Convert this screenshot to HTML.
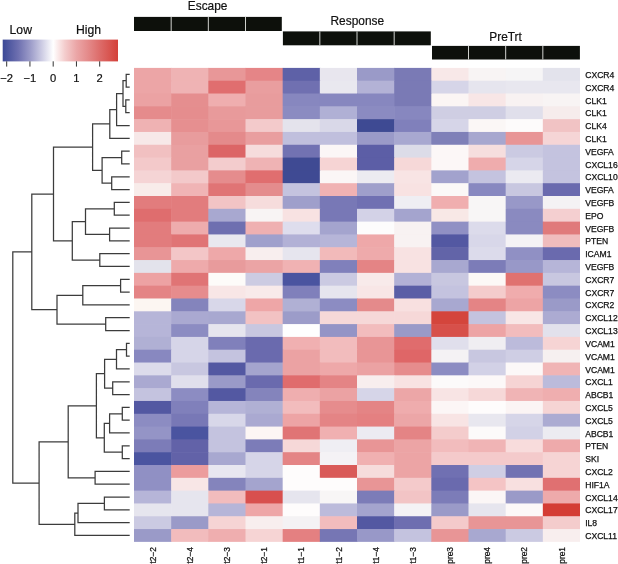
<!DOCTYPE html><html><head><meta charset="utf-8"><style>html,body{margin:0;padding:0;background:#fff;}body{width:618px;height:564px;overflow:hidden;}svg{display:block;font-family:"Liberation Sans",sans-serif;will-change:transform;}</style></head><body>
<svg width="618" height="564" viewBox="0 0 618 564">
<g>
<rect x="134" y="67.9" width="37.77" height="13.41" fill="#eca5a6"/>
<rect x="171.17" y="67.9" width="37.77" height="13.41" fill="#efb3b4"/>
<rect x="208.33" y="67.9" width="37.77" height="13.41" fill="#e89798"/>
<rect x="245.5" y="67.9" width="37.77" height="13.41" fill="#e58587"/>
<rect x="282.67" y="67.9" width="37.77" height="13.41" fill="#5e61a7"/>
<rect x="319.83" y="67.9" width="37.77" height="13.41" fill="#e8e6ee"/>
<rect x="357" y="67.9" width="37.77" height="13.41" fill="#9a9ac8"/>
<rect x="394.17" y="67.9" width="37.77" height="13.41" fill="#7a7ab5"/>
<rect x="431.33" y="67.9" width="37.77" height="13.41" fill="#f8e8e8"/>
<rect x="468.5" y="67.9" width="37.77" height="13.41" fill="#f8f4f4"/>
<rect x="505.67" y="67.9" width="37.77" height="13.41" fill="#f6f5f6"/>
<rect x="542.83" y="67.9" width="37.17" height="13.41" fill="#e3e3ec"/>
<rect x="134" y="80.71" width="37.77" height="13.41" fill="#eca5a6"/>
<rect x="171.17" y="80.71" width="37.77" height="13.41" fill="#efb3b4"/>
<rect x="208.33" y="80.71" width="37.77" height="13.41" fill="#e06e6f"/>
<rect x="245.5" y="80.71" width="37.77" height="13.41" fill="#e99e9f"/>
<rect x="282.67" y="80.71" width="37.77" height="13.41" fill="#7070b1"/>
<rect x="319.83" y="80.71" width="37.77" height="13.41" fill="#e9e8ef"/>
<rect x="357" y="80.71" width="37.77" height="13.41" fill="#b3b2d6"/>
<rect x="394.17" y="80.71" width="37.77" height="13.41" fill="#7a7ab5"/>
<rect x="431.33" y="80.71" width="37.77" height="13.41" fill="#d6d5e8"/>
<rect x="468.5" y="80.71" width="37.77" height="13.41" fill="#e6e5ee"/>
<rect x="505.67" y="80.71" width="37.77" height="13.41" fill="#e8e7ef"/>
<rect x="542.83" y="80.71" width="37.17" height="13.41" fill="#e8e7ef"/>
<rect x="134" y="93.52" width="37.77" height="13.41" fill="#eba2a3"/>
<rect x="171.17" y="93.52" width="37.77" height="13.41" fill="#e58e8f"/>
<rect x="208.33" y="93.52" width="37.77" height="13.41" fill="#efaeaf"/>
<rect x="245.5" y="93.52" width="37.77" height="13.41" fill="#e89c9d"/>
<rect x="282.67" y="93.52" width="37.77" height="13.41" fill="#8787bf"/>
<rect x="319.83" y="93.52" width="37.77" height="13.41" fill="#8787bf"/>
<rect x="357" y="93.52" width="37.77" height="13.41" fill="#8787bf"/>
<rect x="394.17" y="93.52" width="37.77" height="13.41" fill="#7a7ab5"/>
<rect x="431.33" y="93.52" width="37.77" height="13.41" fill="#fbf5f4"/>
<rect x="468.5" y="93.52" width="37.77" height="13.41" fill="#f8e6e6"/>
<rect x="505.67" y="93.52" width="37.77" height="13.41" fill="#f8f2f2"/>
<rect x="542.83" y="93.52" width="37.17" height="13.41" fill="#f8f4f4"/>
<rect x="134" y="106.33" width="37.77" height="13.41" fill="#e58b8c"/>
<rect x="171.17" y="106.33" width="37.77" height="13.41" fill="#e58d8e"/>
<rect x="208.33" y="106.33" width="37.77" height="13.41" fill="#e89a9b"/>
<rect x="245.5" y="106.33" width="37.77" height="13.41" fill="#e89c9d"/>
<rect x="282.67" y="106.33" width="37.77" height="13.41" fill="#8b8bc1"/>
<rect x="319.83" y="106.33" width="37.77" height="13.41" fill="#b0b0d5"/>
<rect x="357" y="106.33" width="37.77" height="13.41" fill="#8b8bc1"/>
<rect x="394.17" y="106.33" width="37.77" height="13.41" fill="#8787bf"/>
<rect x="431.33" y="106.33" width="37.77" height="13.41" fill="#cfcee3"/>
<rect x="468.5" y="106.33" width="37.77" height="13.41" fill="#cfcee3"/>
<rect x="505.67" y="106.33" width="37.77" height="13.41" fill="#e0dfeb"/>
<rect x="542.83" y="106.33" width="37.17" height="13.41" fill="#f6ecec"/>
<rect x="134" y="119.14" width="37.77" height="13.41" fill="#efb2b3"/>
<rect x="171.17" y="119.14" width="37.77" height="13.41" fill="#e68f90"/>
<rect x="208.33" y="119.14" width="37.77" height="13.41" fill="#e89798"/>
<rect x="245.5" y="119.14" width="37.77" height="13.41" fill="#f3cacb"/>
<rect x="282.67" y="119.14" width="37.77" height="13.41" fill="#e4e3ec"/>
<rect x="319.83" y="119.14" width="37.77" height="13.41" fill="#d9d8e8"/>
<rect x="357" y="119.14" width="37.77" height="13.41" fill="#3e4a93"/>
<rect x="394.17" y="119.14" width="37.77" height="13.41" fill="#8080bb"/>
<rect x="431.33" y="119.14" width="37.77" height="13.41" fill="#d6d5e8"/>
<rect x="468.5" y="119.14" width="37.77" height="13.41" fill="#fbf7f6"/>
<rect x="505.67" y="119.14" width="37.77" height="13.41" fill="#fdfbfb"/>
<rect x="542.83" y="119.14" width="37.17" height="13.41" fill="#f1c3c4"/>
<rect x="134" y="131.95" width="37.77" height="13.41" fill="#f7e8e8"/>
<rect x="171.17" y="131.95" width="37.77" height="13.41" fill="#e89c9d"/>
<rect x="208.33" y="131.95" width="37.77" height="13.41" fill="#e48a8b"/>
<rect x="245.5" y="131.95" width="37.77" height="13.41" fill="#e99e9f"/>
<rect x="282.67" y="131.95" width="37.77" height="13.41" fill="#c0bfdd"/>
<rect x="319.83" y="131.95" width="37.77" height="13.41" fill="#c0bfdd"/>
<rect x="357" y="131.95" width="37.77" height="13.41" fill="#9a9ac8"/>
<rect x="394.17" y="131.95" width="37.77" height="13.41" fill="#a8a8d0"/>
<rect x="431.33" y="131.95" width="37.77" height="13.41" fill="#7f80b8"/>
<rect x="468.5" y="131.95" width="37.77" height="13.41" fill="#a7a7cf"/>
<rect x="505.67" y="131.95" width="37.77" height="13.41" fill="#e89596"/>
<rect x="542.83" y="131.95" width="37.17" height="13.41" fill="#f5d5d6"/>
<rect x="134" y="144.76" width="37.77" height="13.41" fill="#f1c0c1"/>
<rect x="171.17" y="144.76" width="37.77" height="13.41" fill="#e9a0a1"/>
<rect x="208.33" y="144.76" width="37.77" height="13.41" fill="#dc6566"/>
<rect x="245.5" y="144.76" width="37.77" height="13.41" fill="#f6dcdc"/>
<rect x="282.67" y="144.76" width="37.77" height="13.41" fill="#7272b2"/>
<rect x="319.83" y="144.76" width="37.77" height="13.41" fill="#fbf6f6"/>
<rect x="357" y="144.76" width="37.77" height="13.41" fill="#5c5ea6"/>
<rect x="394.17" y="144.76" width="37.77" height="13.41" fill="#dcdce8"/>
<rect x="431.33" y="144.76" width="37.77" height="13.41" fill="#fcf7f7"/>
<rect x="468.5" y="144.76" width="37.77" height="13.41" fill="#f6dede"/>
<rect x="505.67" y="144.76" width="37.77" height="13.41" fill="#cbcae2"/>
<rect x="542.83" y="144.76" width="37.17" height="13.41" fill="#c4c3df"/>
<rect x="134" y="157.57" width="37.77" height="13.41" fill="#f3c9ca"/>
<rect x="171.17" y="157.57" width="37.77" height="13.41" fill="#e9a0a1"/>
<rect x="208.33" y="157.57" width="37.77" height="13.41" fill="#f3cccd"/>
<rect x="245.5" y="157.57" width="37.77" height="13.41" fill="#efb3b4"/>
<rect x="282.67" y="157.57" width="37.77" height="13.41" fill="#3f4a93"/>
<rect x="319.83" y="157.57" width="37.77" height="13.41" fill="#f6d4d4"/>
<rect x="357" y="157.57" width="37.77" height="13.41" fill="#5c5ea6"/>
<rect x="394.17" y="157.57" width="37.77" height="13.41" fill="#f6d8d8"/>
<rect x="431.33" y="157.57" width="37.77" height="13.41" fill="#fcf7f7"/>
<rect x="468.5" y="157.57" width="37.77" height="13.41" fill="#efacad"/>
<rect x="505.67" y="157.57" width="37.77" height="13.41" fill="#d6d5e8"/>
<rect x="542.83" y="157.57" width="37.17" height="13.41" fill="#c4c3df"/>
<rect x="134" y="170.38" width="37.77" height="13.41" fill="#f5d4d5"/>
<rect x="171.17" y="170.38" width="37.77" height="13.41" fill="#f3c9ca"/>
<rect x="208.33" y="170.38" width="37.77" height="13.41" fill="#e58c8d"/>
<rect x="245.5" y="170.38" width="37.77" height="13.41" fill="#e06e6f"/>
<rect x="282.67" y="170.38" width="37.77" height="13.41" fill="#3f4a93"/>
<rect x="319.83" y="170.38" width="37.77" height="13.41" fill="#fbf6f6"/>
<rect x="357" y="170.38" width="37.77" height="13.41" fill="#ecebf1"/>
<rect x="394.17" y="170.38" width="37.77" height="13.41" fill="#f8e4e4"/>
<rect x="431.33" y="170.38" width="37.77" height="13.41" fill="#a2a2cd"/>
<rect x="468.5" y="170.38" width="37.77" height="13.41" fill="#c4c3df"/>
<rect x="505.67" y="170.38" width="37.77" height="13.41" fill="#ebeaf1"/>
<rect x="542.83" y="170.38" width="37.17" height="13.41" fill="#c4c3df"/>
<rect x="134" y="183.19" width="37.77" height="13.41" fill="#f8ecea"/>
<rect x="171.17" y="183.19" width="37.77" height="13.41" fill="#f0b4b5"/>
<rect x="208.33" y="183.19" width="37.77" height="13.41" fill="#e07475"/>
<rect x="245.5" y="183.19" width="37.77" height="13.41" fill="#e48c8d"/>
<rect x="282.67" y="183.19" width="37.77" height="13.41" fill="#c4c3df"/>
<rect x="319.83" y="183.19" width="37.77" height="13.41" fill="#f0b2b3"/>
<rect x="357" y="183.19" width="37.77" height="13.41" fill="#9f9fcb"/>
<rect x="394.17" y="183.19" width="37.77" height="13.41" fill="#f8e2e2"/>
<rect x="431.33" y="183.19" width="37.77" height="13.41" fill="#fbf8f7"/>
<rect x="468.5" y="183.19" width="37.77" height="13.41" fill="#8888c0"/>
<rect x="505.67" y="183.19" width="37.77" height="13.41" fill="#c8c7e0"/>
<rect x="542.83" y="183.19" width="37.17" height="13.41" fill="#6a6aae"/>
<rect x="134" y="196" width="37.77" height="13.41" fill="#e27c7d"/>
<rect x="171.17" y="196" width="37.77" height="13.41" fill="#e27c7d"/>
<rect x="208.33" y="196" width="37.77" height="13.41" fill="#f2c4c5"/>
<rect x="245.5" y="196" width="37.77" height="13.41" fill="#f6dcdc"/>
<rect x="282.67" y="196" width="37.77" height="13.41" fill="#9f9fcb"/>
<rect x="319.83" y="196" width="37.77" height="13.41" fill="#7878b6"/>
<rect x="357" y="196" width="37.77" height="13.41" fill="#7070b2"/>
<rect x="394.17" y="196" width="37.77" height="13.41" fill="#efeef3"/>
<rect x="431.33" y="196" width="37.77" height="13.41" fill="#f0aeaf"/>
<rect x="468.5" y="196" width="37.77" height="13.41" fill="#f8f6f6"/>
<rect x="505.67" y="196" width="37.77" height="13.41" fill="#9898c8"/>
<rect x="542.83" y="196" width="37.17" height="13.41" fill="#f4f2f4"/>
<rect x="134" y="208.81" width="37.77" height="13.41" fill="#df6d6e"/>
<rect x="171.17" y="208.81" width="37.77" height="13.41" fill="#e27c7d"/>
<rect x="208.33" y="208.81" width="37.77" height="13.41" fill="#a8a8d0"/>
<rect x="245.5" y="208.81" width="37.77" height="13.41" fill="#f8f4f4"/>
<rect x="282.67" y="208.81" width="37.77" height="13.41" fill="#f8e2e2"/>
<rect x="319.83" y="208.81" width="37.77" height="13.41" fill="#7878b6"/>
<rect x="357" y="208.81" width="37.77" height="13.41" fill="#d3d2e7"/>
<rect x="394.17" y="208.81" width="37.77" height="13.41" fill="#a4a4ce"/>
<rect x="431.33" y="208.81" width="37.77" height="13.41" fill="#f8e8e6"/>
<rect x="468.5" y="208.81" width="37.77" height="13.41" fill="#f8f6f6"/>
<rect x="505.67" y="208.81" width="37.77" height="13.41" fill="#8a8ac0"/>
<rect x="542.83" y="208.81" width="37.17" height="13.41" fill="#f4cfd0"/>
<rect x="134" y="221.62" width="37.77" height="13.41" fill="#e27c7d"/>
<rect x="171.17" y="221.62" width="37.77" height="13.41" fill="#eeacad"/>
<rect x="208.33" y="221.62" width="37.77" height="13.41" fill="#6e6fb0"/>
<rect x="245.5" y="221.62" width="37.77" height="13.41" fill="#efb0b1"/>
<rect x="282.67" y="221.62" width="37.77" height="13.41" fill="#dedded"/>
<rect x="319.83" y="221.62" width="37.77" height="13.41" fill="#a4a4ce"/>
<rect x="357" y="221.62" width="37.77" height="13.41" fill="#fdfcfc"/>
<rect x="394.17" y="221.62" width="37.77" height="13.41" fill="#f8f2f2"/>
<rect x="431.33" y="221.62" width="37.77" height="13.41" fill="#9090c4"/>
<rect x="468.5" y="221.62" width="37.77" height="13.41" fill="#dcdbeb"/>
<rect x="505.67" y="221.62" width="37.77" height="13.41" fill="#8a8ac0"/>
<rect x="542.83" y="221.62" width="37.17" height="13.41" fill="#e07a7b"/>
<rect x="134" y="234.43" width="37.77" height="13.41" fill="#e27c7d"/>
<rect x="171.17" y="234.43" width="37.77" height="13.41" fill="#e07475"/>
<rect x="208.33" y="234.43" width="37.77" height="13.41" fill="#e9e8ef"/>
<rect x="245.5" y="234.43" width="37.77" height="13.41" fill="#a0a0cc"/>
<rect x="282.67" y="234.43" width="37.77" height="13.41" fill="#b2b1d6"/>
<rect x="319.83" y="234.43" width="37.77" height="13.41" fill="#b6b5d8"/>
<rect x="357" y="234.43" width="37.77" height="13.41" fill="#eea8a9"/>
<rect x="394.17" y="234.43" width="37.77" height="13.41" fill="#f8f2f2"/>
<rect x="431.33" y="234.43" width="37.77" height="13.41" fill="#5358a2"/>
<rect x="468.5" y="234.43" width="37.77" height="13.41" fill="#d8d7e9"/>
<rect x="505.67" y="234.43" width="37.77" height="13.41" fill="#f4f2f5"/>
<rect x="542.83" y="234.43" width="37.17" height="13.41" fill="#f0bcbd"/>
<rect x="134" y="247.24" width="37.77" height="13.41" fill="#e89596"/>
<rect x="171.17" y="247.24" width="37.77" height="13.41" fill="#f3c6c7"/>
<rect x="208.33" y="247.24" width="37.77" height="13.41" fill="#eea8a9"/>
<rect x="245.5" y="247.24" width="37.77" height="13.41" fill="#f8eeee"/>
<rect x="282.67" y="247.24" width="37.77" height="13.41" fill="#e6e5ee"/>
<rect x="319.83" y="247.24" width="37.77" height="13.41" fill="#f2baba"/>
<rect x="357" y="247.24" width="37.77" height="13.41" fill="#eeaaab"/>
<rect x="394.17" y="247.24" width="37.77" height="13.41" fill="#f8e2e2"/>
<rect x="431.33" y="247.24" width="37.77" height="13.41" fill="#6264a8"/>
<rect x="468.5" y="247.24" width="37.77" height="13.41" fill="#dcdbeb"/>
<rect x="505.67" y="247.24" width="37.77" height="13.41" fill="#9090c4"/>
<rect x="542.83" y="247.24" width="37.17" height="13.41" fill="#6a6aae"/>
<rect x="134" y="260.05" width="37.77" height="13.41" fill="#e3e3ec"/>
<rect x="171.17" y="260.05" width="37.77" height="13.41" fill="#eeaaab"/>
<rect x="208.33" y="260.05" width="37.77" height="13.41" fill="#e89b9c"/>
<rect x="245.5" y="260.05" width="37.77" height="13.41" fill="#eba4a5"/>
<rect x="282.67" y="260.05" width="37.77" height="13.41" fill="#f0b2b3"/>
<rect x="319.83" y="260.05" width="37.77" height="13.41" fill="#8080bb"/>
<rect x="357" y="260.05" width="37.77" height="13.41" fill="#e48485"/>
<rect x="394.17" y="260.05" width="37.77" height="13.41" fill="#f8e2e2"/>
<rect x="431.33" y="260.05" width="37.77" height="13.41" fill="#a8a8d0"/>
<rect x="468.5" y="260.05" width="37.77" height="13.41" fill="#7c7cb8"/>
<rect x="505.67" y="260.05" width="37.77" height="13.41" fill="#9898c8"/>
<rect x="542.83" y="260.05" width="37.17" height="13.41" fill="#b6b5d8"/>
<rect x="134" y="272.86" width="37.77" height="13.41" fill="#eda2a3"/>
<rect x="171.17" y="272.86" width="37.77" height="13.41" fill="#e07475"/>
<rect x="208.33" y="272.86" width="37.77" height="13.41" fill="#fdfbf9"/>
<rect x="245.5" y="272.86" width="37.77" height="13.41" fill="#cccbe2"/>
<rect x="282.67" y="272.86" width="37.77" height="13.41" fill="#4a54a0"/>
<rect x="319.83" y="272.86" width="37.77" height="13.41" fill="#cbcae2"/>
<rect x="357" y="272.86" width="37.77" height="13.41" fill="#f8eaea"/>
<rect x="394.17" y="272.86" width="37.77" height="13.41" fill="#b2b1d6"/>
<rect x="431.33" y="272.86" width="37.77" height="13.41" fill="#c8c7e0"/>
<rect x="468.5" y="272.86" width="37.77" height="13.41" fill="#fcf8f6"/>
<rect x="505.67" y="272.86" width="37.77" height="13.41" fill="#e07270"/>
<rect x="542.83" y="272.86" width="37.17" height="13.41" fill="#c8c7e0"/>
<rect x="134" y="285.67" width="37.77" height="13.41" fill="#e48485"/>
<rect x="171.17" y="285.67" width="37.77" height="13.41" fill="#e68c8d"/>
<rect x="208.33" y="285.67" width="37.77" height="13.41" fill="#f8e6e6"/>
<rect x="245.5" y="285.67" width="37.77" height="13.41" fill="#f8eaea"/>
<rect x="282.67" y="285.67" width="37.77" height="13.41" fill="#8080bb"/>
<rect x="319.83" y="285.67" width="37.77" height="13.41" fill="#e6e5ee"/>
<rect x="357" y="285.67" width="37.77" height="13.41" fill="#f8e6e6"/>
<rect x="394.17" y="285.67" width="37.77" height="13.41" fill="#5a5ea6"/>
<rect x="431.33" y="285.67" width="37.77" height="13.41" fill="#c4c3df"/>
<rect x="468.5" y="285.67" width="37.77" height="13.41" fill="#f4cccc"/>
<rect x="505.67" y="285.67" width="37.77" height="13.41" fill="#f0acad"/>
<rect x="542.83" y="285.67" width="37.17" height="13.41" fill="#8c8cc2"/>
<rect x="134" y="298.48" width="37.77" height="13.41" fill="#fcf6f2"/>
<rect x="171.17" y="298.48" width="37.77" height="13.41" fill="#8484bc"/>
<rect x="208.33" y="298.48" width="37.77" height="13.41" fill="#d8d7e9"/>
<rect x="245.5" y="298.48" width="37.77" height="13.41" fill="#eea6a7"/>
<rect x="282.67" y="298.48" width="37.77" height="13.41" fill="#b0b0d4"/>
<rect x="319.83" y="298.48" width="37.77" height="13.41" fill="#8c8cc2"/>
<rect x="357" y="298.48" width="37.77" height="13.41" fill="#e48a8b"/>
<rect x="394.17" y="298.48" width="37.77" height="13.41" fill="#f8e0e0"/>
<rect x="431.33" y="298.48" width="37.77" height="13.41" fill="#a8a8d0"/>
<rect x="468.5" y="298.48" width="37.77" height="13.41" fill="#e48485"/>
<rect x="505.67" y="298.48" width="37.77" height="13.41" fill="#eda4a5"/>
<rect x="542.83" y="298.48" width="37.17" height="13.41" fill="#9a9ac8"/>
<rect x="134" y="311.29" width="37.77" height="13.41" fill="#b6b5d8"/>
<rect x="171.17" y="311.29" width="37.77" height="13.41" fill="#aaa9d1"/>
<rect x="208.33" y="311.29" width="37.77" height="13.41" fill="#a8a8d0"/>
<rect x="245.5" y="311.29" width="37.77" height="13.41" fill="#f2c2c3"/>
<rect x="282.67" y="311.29" width="37.77" height="13.41" fill="#9c9cc9"/>
<rect x="319.83" y="311.29" width="37.77" height="13.41" fill="#f6d8d8"/>
<rect x="357" y="311.29" width="37.77" height="13.41" fill="#f6d8d8"/>
<rect x="394.17" y="311.29" width="37.77" height="13.41" fill="#f6d8d8"/>
<rect x="431.33" y="311.29" width="37.77" height="13.41" fill="#d4453c"/>
<rect x="468.5" y="311.29" width="37.77" height="13.41" fill="#c4c3df"/>
<rect x="505.67" y="311.29" width="37.77" height="13.41" fill="#f8e6e6"/>
<rect x="542.83" y="311.29" width="37.17" height="13.41" fill="#acabd2"/>
<rect x="134" y="324.1" width="37.77" height="13.41" fill="#b6b5d8"/>
<rect x="171.17" y="324.1" width="37.77" height="13.41" fill="#8c8cc2"/>
<rect x="208.33" y="324.1" width="37.77" height="13.41" fill="#e6e5ee"/>
<rect x="245.5" y="324.1" width="37.77" height="13.41" fill="#c8c7e0"/>
<rect x="282.67" y="324.1" width="37.77" height="13.41" fill="#fefefe"/>
<rect x="319.83" y="324.1" width="37.77" height="13.41" fill="#9494c6"/>
<rect x="357" y="324.1" width="37.77" height="13.41" fill="#f2bcbd"/>
<rect x="394.17" y="324.1" width="37.77" height="13.41" fill="#9a9ac8"/>
<rect x="431.33" y="324.1" width="37.77" height="13.41" fill="#d7504a"/>
<rect x="468.5" y="324.1" width="37.77" height="13.41" fill="#eda4a5"/>
<rect x="505.67" y="324.1" width="37.77" height="13.41" fill="#f2bcbd"/>
<rect x="542.83" y="324.1" width="37.17" height="13.41" fill="#e2e1ec"/>
<rect x="134" y="336.91" width="37.77" height="13.41" fill="#b0b0d4"/>
<rect x="171.17" y="336.91" width="37.77" height="13.41" fill="#d6d5e8"/>
<rect x="208.33" y="336.91" width="37.77" height="13.41" fill="#8080bb"/>
<rect x="245.5" y="336.91" width="37.77" height="13.41" fill="#6a6aae"/>
<rect x="282.67" y="336.91" width="37.77" height="13.41" fill="#f0b0b1"/>
<rect x="319.83" y="336.91" width="37.77" height="13.41" fill="#f2bcbd"/>
<rect x="357" y="336.91" width="37.77" height="13.41" fill="#e89596"/>
<rect x="394.17" y="336.91" width="37.77" height="13.41" fill="#e06c6d"/>
<rect x="431.33" y="336.91" width="37.77" height="13.41" fill="#e0dfec"/>
<rect x="468.5" y="336.91" width="37.77" height="13.41" fill="#f0eef2"/>
<rect x="505.67" y="336.91" width="37.77" height="13.41" fill="#bcbbdb"/>
<rect x="542.83" y="336.91" width="37.17" height="13.41" fill="#f6d4d4"/>
<rect x="134" y="349.72" width="37.77" height="13.41" fill="#8888c0"/>
<rect x="171.17" y="349.72" width="37.77" height="13.41" fill="#d6d5e8"/>
<rect x="208.33" y="349.72" width="37.77" height="13.41" fill="#c4c3df"/>
<rect x="245.5" y="349.72" width="37.77" height="13.41" fill="#6a6aae"/>
<rect x="282.67" y="349.72" width="37.77" height="13.41" fill="#eba2a3"/>
<rect x="319.83" y="349.72" width="37.77" height="13.41" fill="#f2bcbd"/>
<rect x="357" y="349.72" width="37.77" height="13.41" fill="#e89596"/>
<rect x="394.17" y="349.72" width="37.77" height="13.41" fill="#df6667"/>
<rect x="431.33" y="349.72" width="37.77" height="13.41" fill="#f4f2f4"/>
<rect x="468.5" y="349.72" width="37.77" height="13.41" fill="#c8c7e0"/>
<rect x="505.67" y="349.72" width="37.77" height="13.41" fill="#cfcee4"/>
<rect x="542.83" y="349.72" width="37.17" height="13.41" fill="#f6f0f0"/>
<rect x="134" y="362.53" width="37.77" height="13.41" fill="#dcdbeb"/>
<rect x="171.17" y="362.53" width="37.77" height="13.41" fill="#c8c7e0"/>
<rect x="208.33" y="362.53" width="37.77" height="13.41" fill="#5358a2"/>
<rect x="245.5" y="362.53" width="37.77" height="13.41" fill="#a4a4ce"/>
<rect x="282.67" y="362.53" width="37.77" height="13.41" fill="#eba2a3"/>
<rect x="319.83" y="362.53" width="37.77" height="13.41" fill="#eea8a9"/>
<rect x="357" y="362.53" width="37.77" height="13.41" fill="#eba2a3"/>
<rect x="394.17" y="362.53" width="37.77" height="13.41" fill="#e68c8d"/>
<rect x="431.33" y="362.53" width="37.77" height="13.41" fill="#8c8cc2"/>
<rect x="468.5" y="362.53" width="37.77" height="13.41" fill="#d2d1e6"/>
<rect x="505.67" y="362.53" width="37.77" height="13.41" fill="#fcf8f8"/>
<rect x="542.83" y="362.53" width="37.17" height="13.41" fill="#f0b4b5"/>
<rect x="134" y="375.34" width="37.77" height="13.41" fill="#aaa9d1"/>
<rect x="171.17" y="375.34" width="37.77" height="13.41" fill="#e0dfec"/>
<rect x="208.33" y="375.34" width="37.77" height="13.41" fill="#9a9ac8"/>
<rect x="245.5" y="375.34" width="37.77" height="13.41" fill="#6a6aae"/>
<rect x="282.67" y="375.34" width="37.77" height="13.41" fill="#e06c6d"/>
<rect x="319.83" y="375.34" width="37.77" height="13.41" fill="#e48485"/>
<rect x="357" y="375.34" width="37.77" height="13.41" fill="#f8eeee"/>
<rect x="394.17" y="375.34" width="37.77" height="13.41" fill="#f8e2e2"/>
<rect x="431.33" y="375.34" width="37.77" height="13.41" fill="#fcfafa"/>
<rect x="468.5" y="375.34" width="37.77" height="13.41" fill="#fcf8f8"/>
<rect x="505.67" y="375.34" width="37.77" height="13.41" fill="#f6d4d4"/>
<rect x="542.83" y="375.34" width="37.17" height="13.41" fill="#bcbbdb"/>
<rect x="134" y="388.15" width="37.77" height="13.41" fill="#c4c3df"/>
<rect x="171.17" y="388.15" width="37.77" height="13.41" fill="#8c8cc2"/>
<rect x="208.33" y="388.15" width="37.77" height="13.41" fill="#5358a2"/>
<rect x="245.5" y="388.15" width="37.77" height="13.41" fill="#8484bc"/>
<rect x="282.67" y="388.15" width="37.77" height="13.41" fill="#efaeaf"/>
<rect x="319.83" y="388.15" width="37.77" height="13.41" fill="#eba2a3"/>
<rect x="357" y="388.15" width="37.77" height="13.41" fill="#d6d5e8"/>
<rect x="394.17" y="388.15" width="37.77" height="13.41" fill="#eca6a7"/>
<rect x="431.33" y="388.15" width="37.77" height="13.41" fill="#f8e4e4"/>
<rect x="468.5" y="388.15" width="37.77" height="13.41" fill="#f6d8d8"/>
<rect x="505.67" y="388.15" width="37.77" height="13.41" fill="#f0b4b5"/>
<rect x="542.83" y="388.15" width="37.17" height="13.41" fill="#efaeaf"/>
<rect x="134" y="400.96" width="37.77" height="13.41" fill="#5358a2"/>
<rect x="171.17" y="400.96" width="37.77" height="13.41" fill="#8080bb"/>
<rect x="208.33" y="400.96" width="37.77" height="13.41" fill="#b6b5d8"/>
<rect x="245.5" y="400.96" width="37.77" height="13.41" fill="#b0b0d4"/>
<rect x="282.67" y="400.96" width="37.77" height="13.41" fill="#f2bcbd"/>
<rect x="319.83" y="400.96" width="37.77" height="13.41" fill="#e68c8d"/>
<rect x="357" y="400.96" width="37.77" height="13.41" fill="#e48485"/>
<rect x="394.17" y="400.96" width="37.77" height="13.41" fill="#efacad"/>
<rect x="431.33" y="400.96" width="37.77" height="13.41" fill="#fcf6f6"/>
<rect x="468.5" y="400.96" width="37.77" height="13.41" fill="#fefcfc"/>
<rect x="505.67" y="400.96" width="37.77" height="13.41" fill="#fbf4f4"/>
<rect x="542.83" y="400.96" width="37.17" height="13.41" fill="#f6d4d4"/>
<rect x="134" y="413.77" width="37.77" height="13.41" fill="#8c8cc2"/>
<rect x="171.17" y="413.77" width="37.77" height="13.41" fill="#7878b6"/>
<rect x="208.33" y="413.77" width="37.77" height="13.41" fill="#d8d7e9"/>
<rect x="245.5" y="413.77" width="37.77" height="13.41" fill="#aaa9d1"/>
<rect x="282.67" y="413.77" width="37.77" height="13.41" fill="#eda4a5"/>
<rect x="319.83" y="413.77" width="37.77" height="13.41" fill="#e48485"/>
<rect x="357" y="413.77" width="37.77" height="13.41" fill="#e48081"/>
<rect x="394.17" y="413.77" width="37.77" height="13.41" fill="#eca6a7"/>
<rect x="431.33" y="413.77" width="37.77" height="13.41" fill="#f8e4e4"/>
<rect x="468.5" y="413.77" width="37.77" height="13.41" fill="#e8e7ef"/>
<rect x="505.67" y="413.77" width="37.77" height="13.41" fill="#d6d5e8"/>
<rect x="542.83" y="413.77" width="37.17" height="13.41" fill="#acabd2"/>
<rect x="134" y="426.58" width="37.77" height="13.41" fill="#9494c6"/>
<rect x="171.17" y="426.58" width="37.77" height="13.41" fill="#4a54a0"/>
<rect x="208.33" y="426.58" width="37.77" height="13.41" fill="#c4c3df"/>
<rect x="245.5" y="426.58" width="37.77" height="13.41" fill="#fcf6f4"/>
<rect x="282.67" y="426.58" width="37.77" height="13.41" fill="#e07475"/>
<rect x="319.83" y="426.58" width="37.77" height="13.41" fill="#f0b0b1"/>
<rect x="357" y="426.58" width="37.77" height="13.41" fill="#ecebf2"/>
<rect x="394.17" y="426.58" width="37.77" height="13.41" fill="#e48485"/>
<rect x="431.33" y="426.58" width="37.77" height="13.41" fill="#f4cccc"/>
<rect x="468.5" y="426.58" width="37.77" height="13.41" fill="#fcfafa"/>
<rect x="505.67" y="426.58" width="37.77" height="13.41" fill="#d2d1e6"/>
<rect x="542.83" y="426.58" width="37.17" height="13.41" fill="#ecebf1"/>
<rect x="134" y="439.39" width="37.77" height="13.41" fill="#7c7cb8"/>
<rect x="171.17" y="439.39" width="37.77" height="13.41" fill="#6262a8"/>
<rect x="208.33" y="439.39" width="37.77" height="13.41" fill="#c4c3df"/>
<rect x="245.5" y="439.39" width="37.77" height="13.41" fill="#7c7cb8"/>
<rect x="282.67" y="439.39" width="37.77" height="13.41" fill="#f6d8d8"/>
<rect x="319.83" y="439.39" width="37.77" height="13.41" fill="#efeef3"/>
<rect x="357" y="439.39" width="37.77" height="13.41" fill="#e89596"/>
<rect x="394.17" y="439.39" width="37.77" height="13.41" fill="#eca4a5"/>
<rect x="431.33" y="439.39" width="37.77" height="13.41" fill="#f2bcbd"/>
<rect x="468.5" y="439.39" width="37.77" height="13.41" fill="#f0b4b5"/>
<rect x="505.67" y="439.39" width="37.77" height="13.41" fill="#f8dcdc"/>
<rect x="542.83" y="439.39" width="37.17" height="13.41" fill="#eeaaab"/>
<rect x="134" y="452.2" width="37.77" height="13.41" fill="#4a54a0"/>
<rect x="171.17" y="452.2" width="37.77" height="13.41" fill="#6262a8"/>
<rect x="208.33" y="452.2" width="37.77" height="13.41" fill="#a8a8d0"/>
<rect x="245.5" y="452.2" width="37.77" height="13.41" fill="#d6d5e8"/>
<rect x="282.67" y="452.2" width="37.77" height="13.41" fill="#e48485"/>
<rect x="319.83" y="452.2" width="37.77" height="13.41" fill="#f4f2f5"/>
<rect x="357" y="452.2" width="37.77" height="13.41" fill="#f0b0b1"/>
<rect x="394.17" y="452.2" width="37.77" height="13.41" fill="#eca4a5"/>
<rect x="431.33" y="452.2" width="37.77" height="13.41" fill="#f4cacb"/>
<rect x="468.5" y="452.2" width="37.77" height="13.41" fill="#f4cacb"/>
<rect x="505.67" y="452.2" width="37.77" height="13.41" fill="#f4cacb"/>
<rect x="542.83" y="452.2" width="37.17" height="13.41" fill="#f6d4d4"/>
<rect x="134" y="465.01" width="37.77" height="13.41" fill="#9090c4"/>
<rect x="171.17" y="465.01" width="37.77" height="13.41" fill="#ec9c9d"/>
<rect x="208.33" y="465.01" width="37.77" height="13.41" fill="#e8e7f0"/>
<rect x="245.5" y="465.01" width="37.77" height="13.41" fill="#d6d5e8"/>
<rect x="282.67" y="465.01" width="37.77" height="13.41" fill="#fefcfc"/>
<rect x="319.83" y="465.01" width="37.77" height="13.41" fill="#d95a58"/>
<rect x="357" y="465.01" width="37.77" height="13.41" fill="#f6dcdc"/>
<rect x="394.17" y="465.01" width="37.77" height="13.41" fill="#eca4a5"/>
<rect x="431.33" y="465.01" width="37.77" height="13.41" fill="#7070b2"/>
<rect x="468.5" y="465.01" width="37.77" height="13.41" fill="#cfcee4"/>
<rect x="505.67" y="465.01" width="37.77" height="13.41" fill="#7272b2"/>
<rect x="542.83" y="465.01" width="37.17" height="13.41" fill="#f6d4d4"/>
<rect x="134" y="477.82" width="37.77" height="13.41" fill="#9090c4"/>
<rect x="171.17" y="477.82" width="37.77" height="13.41" fill="#f8e6e6"/>
<rect x="208.33" y="477.82" width="37.77" height="13.41" fill="#8484bc"/>
<rect x="245.5" y="477.82" width="37.77" height="13.41" fill="#a4a4ce"/>
<rect x="282.67" y="477.82" width="37.77" height="13.41" fill="#fefcfc"/>
<rect x="319.83" y="477.82" width="37.77" height="13.41" fill="#fefcfc"/>
<rect x="357" y="477.82" width="37.77" height="13.41" fill="#e89596"/>
<rect x="394.17" y="477.82" width="37.77" height="13.41" fill="#f4cacb"/>
<rect x="431.33" y="477.82" width="37.77" height="13.41" fill="#6a6aae"/>
<rect x="468.5" y="477.82" width="37.77" height="13.41" fill="#f4c4c5"/>
<rect x="505.67" y="477.82" width="37.77" height="13.41" fill="#f8e0e0"/>
<rect x="542.83" y="477.82" width="37.17" height="13.41" fill="#e07071"/>
<rect x="134" y="490.63" width="37.77" height="13.41" fill="#b6b5d8"/>
<rect x="171.17" y="490.63" width="37.77" height="13.41" fill="#e6e5ee"/>
<rect x="208.33" y="490.63" width="37.77" height="13.41" fill="#f2bcbd"/>
<rect x="245.5" y="490.63" width="37.77" height="13.41" fill="#d8504e"/>
<rect x="282.67" y="490.63" width="37.77" height="13.41" fill="#e6e5ee"/>
<rect x="319.83" y="490.63" width="37.77" height="13.41" fill="#f8f6f6"/>
<rect x="357" y="490.63" width="37.77" height="13.41" fill="#7c7cb8"/>
<rect x="394.17" y="490.63" width="37.77" height="13.41" fill="#f2c4c5"/>
<rect x="431.33" y="490.63" width="37.77" height="13.41" fill="#7c7cb8"/>
<rect x="468.5" y="490.63" width="37.77" height="13.41" fill="#fbf6f6"/>
<rect x="505.67" y="490.63" width="37.77" height="13.41" fill="#9a9ac8"/>
<rect x="542.83" y="490.63" width="37.17" height="13.41" fill="#eeaaab"/>
<rect x="134" y="503.44" width="37.77" height="13.41" fill="#e6e5ee"/>
<rect x="171.17" y="503.44" width="37.77" height="13.41" fill="#e6e5ee"/>
<rect x="208.33" y="503.44" width="37.77" height="13.41" fill="#b6b5d8"/>
<rect x="245.5" y="503.44" width="37.77" height="13.41" fill="#eea6a7"/>
<rect x="282.67" y="503.44" width="37.77" height="13.41" fill="#fefcfc"/>
<rect x="319.83" y="503.44" width="37.77" height="13.41" fill="#bcbbdb"/>
<rect x="357" y="503.44" width="37.77" height="13.41" fill="#a4a4ce"/>
<rect x="394.17" y="503.44" width="37.77" height="13.41" fill="#f4f2f5"/>
<rect x="431.33" y="503.44" width="37.77" height="13.41" fill="#9a9ac8"/>
<rect x="468.5" y="503.44" width="37.77" height="13.41" fill="#e6e5ee"/>
<rect x="505.67" y="503.44" width="37.77" height="13.41" fill="#fcf8f8"/>
<rect x="542.83" y="503.44" width="37.17" height="13.41" fill="#d43c34"/>
<rect x="134" y="516.25" width="37.77" height="13.41" fill="#cbcae2"/>
<rect x="171.17" y="516.25" width="37.77" height="13.41" fill="#9a9ac8"/>
<rect x="208.33" y="516.25" width="37.77" height="13.41" fill="#f6d4d4"/>
<rect x="245.5" y="516.25" width="37.77" height="13.41" fill="#f8eeee"/>
<rect x="282.67" y="516.25" width="37.77" height="13.41" fill="#f4f2f4"/>
<rect x="319.83" y="516.25" width="37.77" height="13.41" fill="#f2bcbd"/>
<rect x="357" y="516.25" width="37.77" height="13.41" fill="#5358a2"/>
<rect x="394.17" y="516.25" width="37.77" height="13.41" fill="#6e6eb0"/>
<rect x="431.33" y="516.25" width="37.77" height="13.41" fill="#f4cacb"/>
<rect x="468.5" y="516.25" width="37.77" height="13.41" fill="#e89596"/>
<rect x="505.67" y="516.25" width="37.77" height="13.41" fill="#e89596"/>
<rect x="542.83" y="516.25" width="37.17" height="13.41" fill="#f4cccc"/>
<rect x="134" y="529.06" width="37.77" height="12.81" fill="#9a9ac8"/>
<rect x="171.17" y="529.06" width="37.77" height="12.81" fill="#f2bcbd"/>
<rect x="208.33" y="529.06" width="37.77" height="12.81" fill="#efaeaf"/>
<rect x="245.5" y="529.06" width="37.77" height="12.81" fill="#f6d4d4"/>
<rect x="282.67" y="529.06" width="37.77" height="12.81" fill="#e48081"/>
<rect x="319.83" y="529.06" width="37.77" height="12.81" fill="#7676b4"/>
<rect x="357" y="529.06" width="37.77" height="12.81" fill="#9898c8"/>
<rect x="394.17" y="529.06" width="37.77" height="12.81" fill="#c4c3df"/>
<rect x="431.33" y="529.06" width="37.77" height="12.81" fill="#e89596"/>
<rect x="468.5" y="529.06" width="37.77" height="12.81" fill="#a8a8d0"/>
<rect x="505.67" y="529.06" width="37.77" height="12.81" fill="#cbcae2"/>
<rect x="542.83" y="529.06" width="37.17" height="12.81" fill="#f8eeee"/>
</g>
<rect x="134" y="16.9" width="147.8" height="14.1" fill="#0d100b"/>
<rect x="170.67" y="16.9" width="1" height="14.1" fill="#d0d2ce"/>
<rect x="207.83" y="16.9" width="1" height="14.1" fill="#d0d2ce"/>
<rect x="245" y="16.9" width="1" height="14.1" fill="#d0d2ce"/>
<rect x="282.9" y="31.4" width="147.9" height="13.9" fill="#0d100b"/>
<rect x="319.33" y="31.4" width="1" height="13.9" fill="#d0d2ce"/>
<rect x="356.5" y="31.4" width="1" height="13.9" fill="#d0d2ce"/>
<rect x="393.67" y="31.4" width="1" height="13.9" fill="#d0d2ce"/>
<rect x="432" y="45.9" width="147.9" height="13.6" fill="#0d100b"/>
<rect x="468" y="45.9" width="1" height="13.6" fill="#d0d2ce"/>
<rect x="505.17" y="45.9" width="1" height="13.6" fill="#d0d2ce"/>
<rect x="542.33" y="45.9" width="1" height="13.6" fill="#d0d2ce"/>
<g font-size="11.9" fill="#111" stroke="#111" stroke-width="0.2" text-anchor="middle">
<text x="207.6" y="10.4">Escape</text>
<text x="357.3" y="24.8">Response</text>
<text x="505.6" y="40.6">PreTrt</text>
</g>
<defs><linearGradient id="lg" x1="0" x2="1" y1="0" y2="0">
<stop offset="0.0004" stop-color="#3b4896"/>
<stop offset="0.1355" stop-color="#6e70b0"/>
<stop offset="0.2363" stop-color="#9a9ac8"/>
<stop offset="0.3372" stop-color="#cccbe3"/>
<stop offset="0.4380" stop-color="#ffffff"/>
<stop offset="0.5388" stop-color="#f4cdcd"/>
<stop offset="0.6396" stop-color="#eba6a7"/>
<stop offset="0.7405" stop-color="#e48a8a"/>
<stop offset="0.8413" stop-color="#dd6c6a"/>
<stop offset="0.9986" stop-color="#d4413a"/>
</linearGradient></defs>
<rect x="2.7" y="39.6" width="115.3" height="21.8" fill="url(#lg)"/>
<g stroke="#333" stroke-width="1">
<line x1="6.7" y1="61.3" x2="6.7" y2="66.6"/>
<line x1="29.95" y1="61.3" x2="29.95" y2="66.6"/>
<line x1="53.2" y1="61.3" x2="53.2" y2="66.6"/>
<line x1="76.45" y1="61.3" x2="76.45" y2="66.6"/>
<line x1="99.7" y1="61.3" x2="99.7" y2="66.6"/>
</g>
<g font-size="12.2" fill="#111" stroke="#111" stroke-width="0.2">
<text x="9.6" y="33.7">Low</text>
<text x="76.0" y="33.7">High</text>
</g>
<g font-size="11.2" fill="#111" stroke="#111" stroke-width="0.2" text-anchor="middle">
<text x="6.7" y="81.6">−2</text>
<text x="29.95" y="81.6">−1</text>
<text x="53.2" y="81.6">0</text>
<text x="76.45" y="81.6">1</text>
<text x="99.7" y="81.6">2</text>
</g>
<g font-size="8.6" fill="#111" stroke="#111" stroke-width="0.25">
<text x="585.2" y="77.91">CXCR4</text>
<text x="585.2" y="90.72">CXCR4</text>
<text x="585.2" y="103.53">CLK1</text>
<text x="585.2" y="116.34">CLK1</text>
<text x="585.2" y="129.15">CLK4</text>
<text x="585.2" y="141.96">CLK1</text>
<text x="585.2" y="154.77">VEGFA</text>
<text x="585.2" y="167.58">CXCL16</text>
<text x="585.2" y="180.39">CXCL10</text>
<text x="585.2" y="193.2">VEGFA</text>
<text x="585.2" y="206">VEGFB</text>
<text x="585.2" y="218.81">EPO</text>
<text x="585.2" y="231.62">VEGFB</text>
<text x="585.2" y="244.44">PTEN</text>
<text x="585.2" y="257.25">ICAM1</text>
<text x="585.2" y="270.06">VEGFB</text>
<text x="585.2" y="282.87">CXCR7</text>
<text x="585.2" y="295.68">CXCR7</text>
<text x="585.2" y="308.49">CXCR2</text>
<text x="585.2" y="321.3">CXCL12</text>
<text x="585.2" y="334.11">CXCL13</text>
<text x="585.2" y="346.92">VCAM1</text>
<text x="585.2" y="359.73">VCAM1</text>
<text x="585.2" y="372.54">VCAM1</text>
<text x="585.2" y="385.35">CXCL1</text>
<text x="585.2" y="398.16">ABCB1</text>
<text x="585.2" y="410.97">CXCL5</text>
<text x="585.2" y="423.78">CXCL5</text>
<text x="585.2" y="436.59">ABCB1</text>
<text x="585.2" y="449.4">PTEN</text>
<text x="585.2" y="462.21">SKI</text>
<text x="585.2" y="475.02">CXCL2</text>
<text x="585.2" y="487.83">HIF1A</text>
<text x="585.2" y="500.63">CXCL14</text>
<text x="585.2" y="513.45">CXCL17</text>
<text x="585.2" y="526.25">IL8</text>
<text x="585.2" y="539.07">CXCL11</text>
</g>
<g font-size="8.4" fill="#111" stroke="#111" stroke-width="0.25" text-anchor="end">
<text transform="translate(155.78,547.0) rotate(-90)">t2−2</text>
<text transform="translate(192.95,547.0) rotate(-90)">t2−4</text>
<text transform="translate(230.12,547.0) rotate(-90)">t2−3</text>
<text transform="translate(267.28,547.0) rotate(-90)">t2−1</text>
<text transform="translate(304.45,547.0) rotate(-90)">t1−1</text>
<text transform="translate(341.62,547.0) rotate(-90)">t1−2</text>
<text transform="translate(378.78,547.0) rotate(-90)">t1−4</text>
<text transform="translate(415.95,547.0) rotate(-90)">t1−3</text>
<text transform="translate(453.12,547.0) rotate(-90)">pre3</text>
<text transform="translate(490.28,547.0) rotate(-90)">pre4</text>
<text transform="translate(527.45,547.0) rotate(-90)">pre2</text>
<text transform="translate(564.62,547.0) rotate(-90)">pre1</text>
</g>
<path d="M129.7 74.31H126.2V87.12H129.7M129.7 99.93H125.8V112.74H129.7M126.2 80.71H123V106.33H125.8M123 93.52H116.6V125.55H129.7M116.6 109.53H109.8V138.36H129.7M129.7 151.17H121.7V163.98H129.7M129.7 176.79H111.7V189.6H129.7M121.7 157.57H102.1V183.19H111.7M109.8 123.94H92.6V170.38H102.1M129.7 202.41H114.3V215.22H129.7M129.7 228.03H109.6V240.84H129.7M114.3 208.81H85.5V234.43H109.6M129.7 253.65H99.8V266.46H129.7M85.5 221.62H72.3V260.05H99.8M92.6 147.16H53.5V240.84H72.3M129.7 279.26H120.6V292.08H129.7M120.6 285.67H82.8V304.88H129.7M129.7 317.7H105.7V330.5H129.7M82.8 295.28H57V324.1H105.7M53.5 194H31.8V309.69H57M129.7 343.32H126.5V356.12H129.7M126.5 349.72H116.5V368.94H129.7M129.7 381.75H112.7V394.56H129.7M116.5 359.33H104.6V388.15H112.7M129.7 407.37H122.3V420.18H129.7M122.3 413.77H109.6V432.99H129.7M129.7 445.8H122.3V458.61H129.7M109.6 423.38H104.3V452.2H122.3M104.6 373.74H96.4V437.79H104.3M129.7 471.42H95.1V484.23H129.7M96.4 405.76H68.2V477.82H95.1M129.7 497.03H104.4V509.85H129.7M104.4 503.44H78V522.65H129.7M78 513.05H74.8V535.47H129.7M68.2 441.79H39.1V524.26H74.8M31.8 251.84H12.8V483.02H39.1" fill="none" stroke="#3c3c3c" stroke-width="1.25" stroke-linejoin="miter" stroke-linecap="butt"/>
</svg></body></html>
